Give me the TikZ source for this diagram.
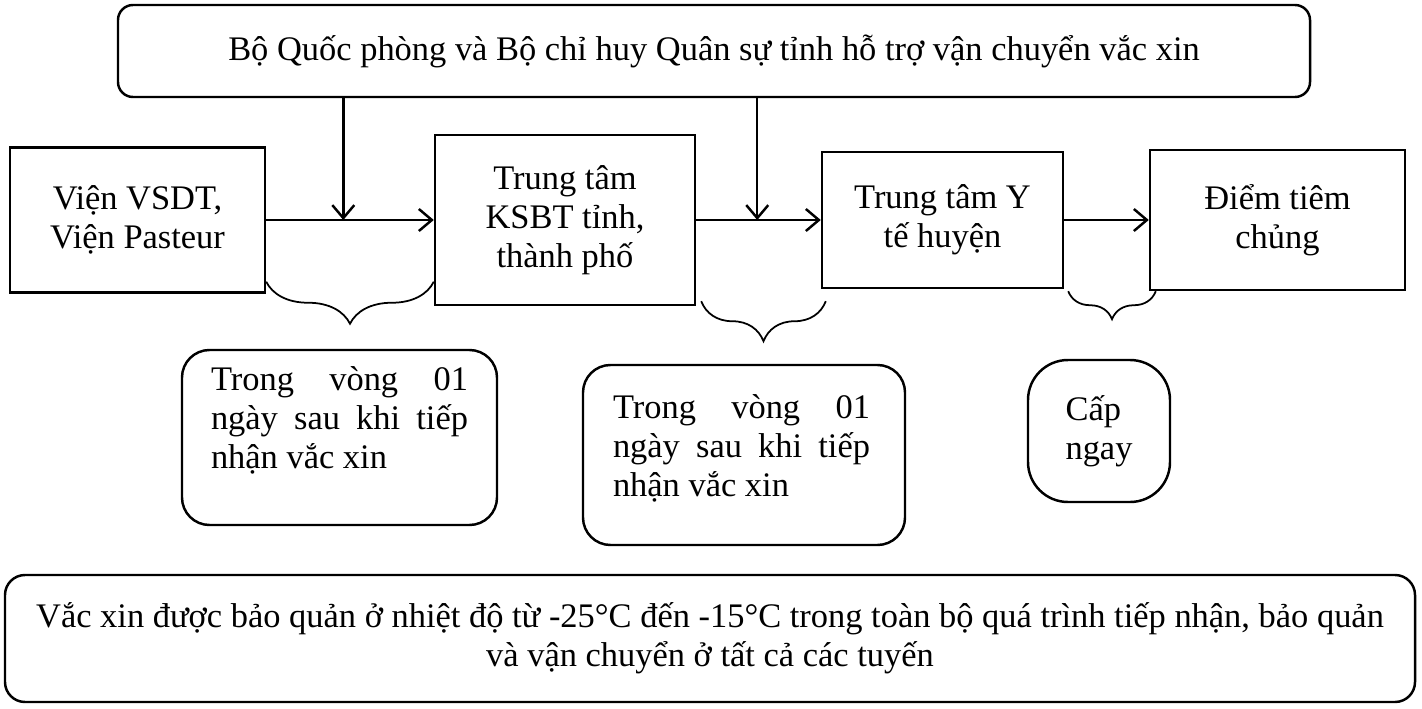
\documentclass[tikz,border=0pt]{standalone}
\usepackage{fontspec}
\setmainfont{Liberation Serif}
\usetikzlibrary{positioning,calc,arrows.meta,decorations.pathreplacing}
\tikzset{>={Straight Barb[length=2.6mm,width=4.4mm]}}
\hbadness=10000

\begin{document}
\begin{tikzpicture}[
	font=\fontsize{19.6}{22.2}\selectfont,
	sq/.style = {% square boxes
		draw, line width=1.4pt, align=center, inner sep=2pt,},
	rd/.style = {% rounded boxes
		draw, line width=1.4pt, rounded corners=#1, align=center,},
	jt/.style = {% justified text
		text width=5.14cm, align=justify, inner sep=0pt,},
	br/.style = {% braces
		line width=1pt, decorate, decoration={brace,mirror,amplitude=#1},},
	]
	\useasboundingbox (0,0) rectangle (28.44,14.16);
	
	% top box
	\node[rd=0.3cm, minimum width=23.84cm, minimum height=1.84cm] (bqp) at (14.28,13.14)
		{Bộ Quốc phòng và Bộ chỉ huy Quân sự tỉnh hỗ trợ vận chuyển vắc xin};
	% chain of boxes
	\node[sq, minimum width=5.1cm, minimum height=2.9cm] (vien) at (2.75,9.76) {Viện VSDT,\\Viện Pasteur};
	\node[sq, minimum width=5.2cm, minimum height=3.4cm] (ksbt) at (11.3,9.76) {Trung tâm\\KSBT tỉnh,\\thành phố};
	\node[sq, minimum width=4.82cm, minimum height=2.72cm] (yte) at (18.85,9.76) {Trung tâm Y\\tế huyện};
	\node[sq, minimum width=5.1cm, minimum height=2.8cm] (diem) at (25.55,9.76) {Điểm tiêm\\chủng};
	% arrows
	\coordinate (j1) at ($(vien.east)!0.46!(ksbt.west)$);
	\coordinate (j2) at ($(ksbt.east)!0.49!(yte.west)$);
	\draw[->,line width=1.4pt] (vien) -- (ksbt);
	\draw[->,line width=1.4pt] (ksbt) -- (yte);
	\draw[->,line width=1.4pt] (yte) -- (diem);
	\draw[->,line width=1.4pt] (bqp.south -| j1) -- (j1);
	\draw[->,line width=1.4pt] (bqp.south -| j2) -- (j2);
	% braces
	\draw[br=0.84cm] ([yshift=0.24cm]vien.south east) -- ([yshift=0.24cm]vien.south east -| ksbt.west);
	\draw[br=0.8cm] ([xshift=0.1cm,yshift=0.1cm]ksbt.south east) -- ([xshift=0.1cm,yshift=0.1cm]ksbt.south east -| yte.west);
	\draw[br=0.56cm] ([xshift=0.08cm,yshift=-0.04cm]yte.south east) -- ([xshift=0.14cm,yshift=-0.04cm]yte.south east -| diem.west);
	% time boxes
	\node[rd=0.55cm, minimum width=6.3cm, minimum height=3.5cm] (r1) at (6.79,5.41) {};
	\node[jt] (r1t) at ([yshift=0.35cm]r1.center) {Trong vòng 01\linebreak ngày sau khi tiếp\linebreak nhận vắc xin};
	\node[rd=0.55cm, minimum width=6.44cm, minimum height=3.6cm] (r2) at (14.88,5.06) {};
	\node[jt] (r2t) at ([xshift=-0.05cm,yshift=0.14cm]r2.center) {Trong vòng 01\linebreak ngày sau khi tiếp\linebreak nhận vắc xin};
	\node[rd=0.8cm, minimum width=2.84cm, minimum height=2.84cm, align=left] (r3) at (21.98,5.54) {Cấp\\ngay};
	% bottom box
	\node[rd=0.4cm, minimum width=28.2cm, minimum height=2.54cm] (bq) at (14.2,1.39)
		{Vắc xin được bảo quản ở nhiệt độ từ -25°C đến -15°C trong toàn bộ quá trình tiếp nhận, bảo quản\\và vận chuyển ở tất cả các tuyến};

\end{tikzpicture}
\end{document}
